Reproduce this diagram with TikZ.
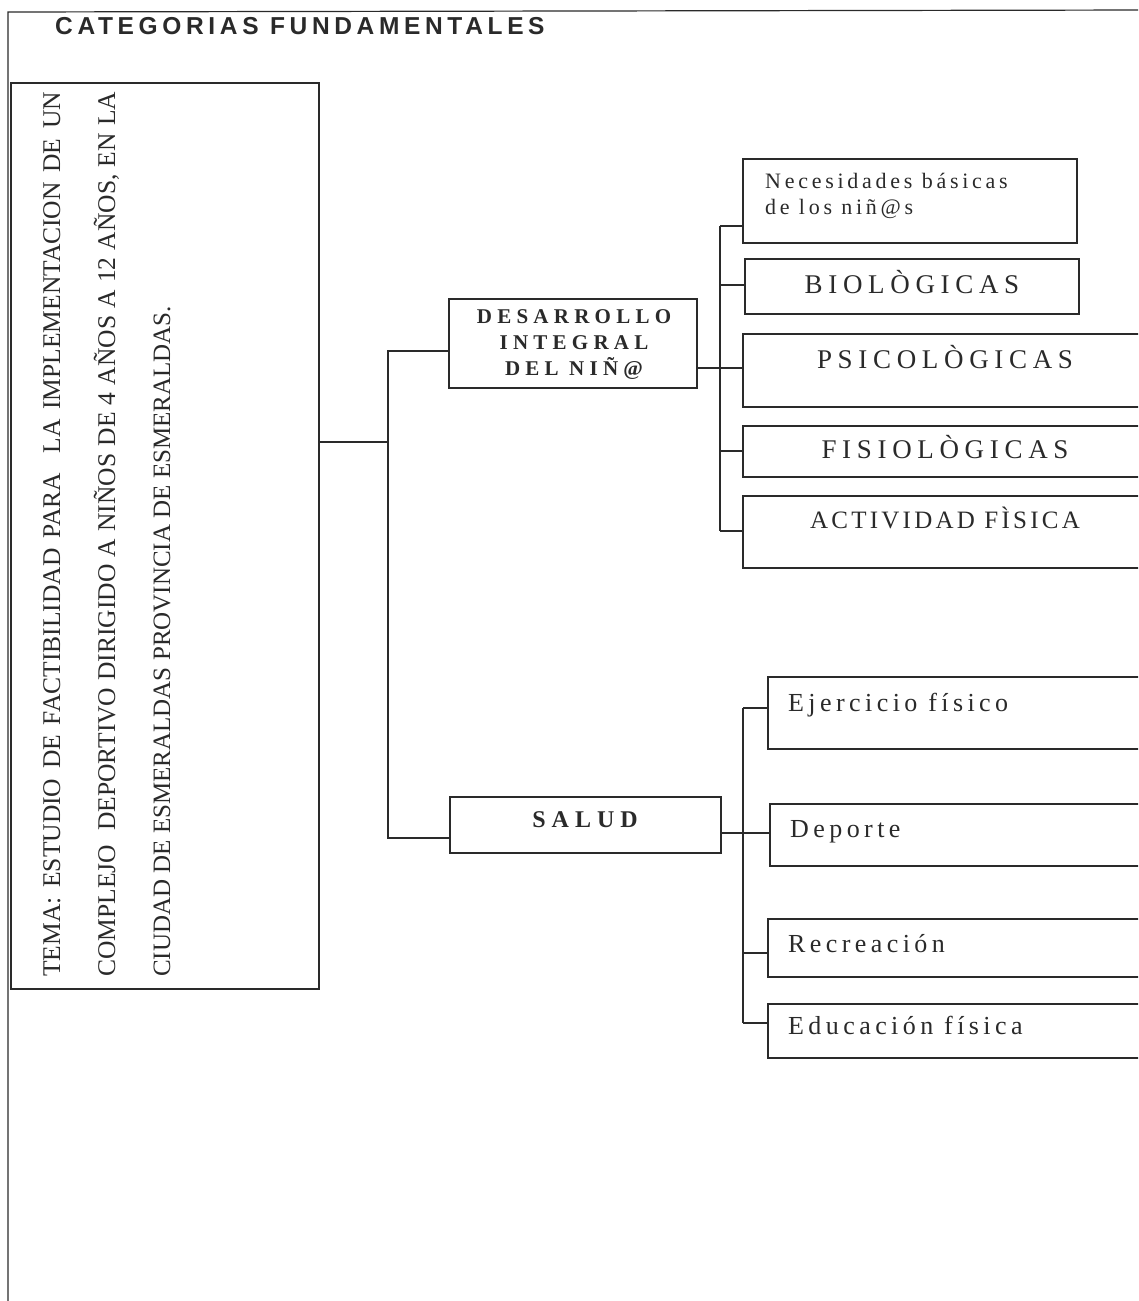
\documentclass[tikz,border=0pt]{standalone}
\usepackage{fontspec}
\setmainfont{Liberation Serif}
\newfontfamily\ttlfont[LetterSpace=19]{Liberation Sans}
\newfontfamily\capfont[LetterSpace=21]{Liberation Serif}
\newfontfamily\capfontb[LetterSpace=13]{Liberation Serif}
\newfontfamily\lowfont[LetterSpace=17]{Liberation Serif}
\newfontfamily\midfont[LetterSpace=25]{Liberation Serif}
\definecolor{ink}{HTML}{2A2A2A}
\tikzset{
  box/.style={draw=ink, line width=1.6pt, rectangle, anchor=north west, inner sep=0pt},
  conn/.style={draw=ink, line width=1.6pt},
  frame/.style={draw=ink, line width=1.2pt},
  lbl/.style={text=ink, inner sep=0pt},
}
\begin{document}
\begin{tikzpicture}[x=1pt,y=-1pt]
\useasboundingbox (0,0) rectangle (1138,1301);
\clip (0,0) rectangle (1138,1301);
\fill[white] (0,0) rectangle (1138,1301);
% outer frame
\draw[frame] (8,1310) -- (8,12) -- (1150,10);
\node[lbl, anchor=base west] (title) at (55,34) {\ttlfont\bfseries\fontsize{24.5}{24.5}\selectfont CATEGORIAS FUNDAMENTALES};
% TEMA box
\node[box, minimum width=308pt, minimum height=906pt] (tema) at (10,82) {};
\node[lbl, rotate=90, anchor=base west] (t1) at (60,977) {\fontsize{25.5}{25.5}\selectfont\makebox[885pt][s]{TEMA: ESTUDIO DE FACTIBILIDAD PARA\ \ LA IMPLEMENTACION DE UN}};
\node[lbl, rotate=90, anchor=base west] (t2) at (115,977) {\fontsize{25.5}{25.5}\selectfont\makebox[885pt][s]{COMPLEJO\ \ DEPORTIVO DIRIGIDO A NIÑOS DE 4 AÑOS A 12 AÑOS, EN LA}};
\node[lbl, rotate=90, anchor=base west] (t3) at (170,977) {\fontsize{25}{25}\selectfont CIUDAD DE ESMERALDAS PROVINCIA DE ESMERALDAS.};
% middle boxes
\node[box, minimum width=248pt, minimum height=89pt] (des) at (448,298) {};
\node[lbl, align=center, font=\midfont\bfseries\fontsize{21}{26}\selectfont] (destxt) at (574,345) {DESARROLLO\\INTEGRAL\\DEL NIÑ@};
\node[box, minimum width=271pt, minimum height=56pt] (sal) at (449,796) {};
\node[lbl, font=\midfont\bfseries\fontsize{24}{24}\selectfont] (saltxt) at (585,820) {SALUD};
% trunk connectors
\coordinate (j0) at (388,442);
\coordinate (j1) at (388,351);
\coordinate (j2) at (388,838);
\draw[conn] (tema.east |- j0) -- (j0);
\draw[conn] (des.west |- j1) -- (j1) -- (j2) -- (sal.west |- j2);
% upper right boxes
\node[box, minimum width=334pt, minimum height=84pt] (n1) at (742,158) {};
\node[box, minimum width=334pt, minimum height=55pt] (n2) at (744,258) {};
\node[box, minimum width=420pt, minimum height=73pt] (n3) at (742,333) {};
\node[box, minimum width=420pt, minimum height=51pt] (n4) at (742,425) {};
\node[box, minimum width=420pt, minimum height=72pt] (n5) at (742,495) {};
\node[lbl, anchor=base west, font=\lowfont\fontsize{22}{26}\selectfont] (n1t) at (765,188) {Necesidades básicas};
\node[lbl, anchor=base west, font=\lowfont\fontsize{22}{26}\selectfont] (n1u) at (765,214) {de los niñ@s};
\node[lbl, font=\capfont\fontsize{27}{27}\selectfont] (n2t) at (912,282) {BIOLÒGICAS};
\node[lbl, font=\capfont\fontsize{27}{27}\selectfont] (n3t) at (945,357) {PSICOLÒGICAS};
\node[lbl, font=\capfont\fontsize{27}{27}\selectfont] (n4t) at (945,447) {FISIOLÒGICAS};
\node[lbl, font=\capfontb\fontsize{25}{25}\selectfont] (n5t) at (945,518) {ACTIVIDAD FÌSICA};
\coordinate (ua) at (720,226);
\coordinate (ub) at (720,531);
\draw[conn] (ua) -- (ub);
\draw[conn] (des.east |- 720,368) -- (n3.west |- 720,368);
\draw[conn] (ua) -- (n1.west |- ua);
\draw[conn] (720,285) -- (n2.west |- 720,285);
\draw[conn] (720,451) -- (n4.west |- 720,451);
\draw[conn] (ub) -- (n5.west |- ub);
% lower right boxes
\node[box, minimum width=400pt, minimum height=72pt] (m1) at (767,676) {};
\node[box, minimum width=400pt, minimum height=62pt] (m2) at (769,803) {};
\node[box, minimum width=400pt, minimum height=58pt] (m3) at (767,918) {};
\node[box, minimum width=400pt, minimum height=54pt] (m4) at (767,1003) {};
\node[lbl, anchor=base west, font=\lowfont\fontsize{26}{26}\selectfont] (m1t) at (788,711) {Ejercicio físico};
\node[lbl, anchor=base west, font=\lowfont\fontsize{26}{26}\selectfont] (m2t) at (790,837) {Deporte};
\node[lbl, anchor=base west, font=\lowfont\fontsize{26}{26}\selectfont] (m3t) at (788,952) {Recreación};
\node[lbl, anchor=base west, font=\lowfont\fontsize{26}{26}\selectfont] (m4t) at (788,1034) {Educación física};
\coordinate (la) at (743,708);
\coordinate (lb) at (743,1023);
\draw[conn] (la) -- (lb);
\draw[conn] (sal.east |- 743,833) -- (m2.west |- 743,833);
\draw[conn] (la) -- (m1.west |- la);
\draw[conn] (743,953) -- (m3.west |- 743,953);
\draw[conn] (lb) -- (m4.west |- lb);
\end{tikzpicture}
\end{document}
